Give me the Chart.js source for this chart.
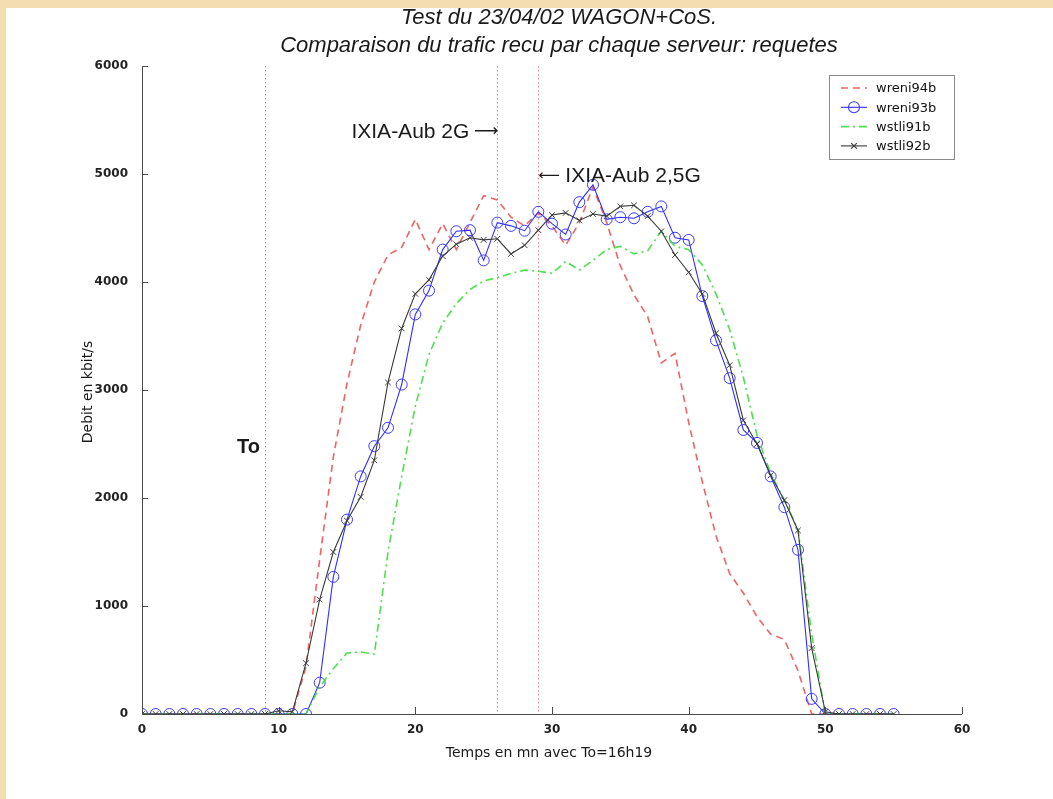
<!DOCTYPE html>
<html>
<head>
<meta charset="utf-8">
<script src="https://cdn.jsdelivr.net/npm/chart.js@4.4.1/dist/chart.umd.min.js"></script>
<style>
  html, body { margin: 0; padding: 0; }
  body { width: 1053px; height: 799px; background: #f4ddb1; position: relative; overflow: hidden; }
  #page { position: absolute; left: 6px; top: 8px; right: 0; bottom: 0; background: #fff; }
  #chart { position: absolute; left: 0; top: 0; }
</style>
</head>
<body>
<div id="page"></div>
<canvas id="chart" width="1053" height="799"></canvas>
<script>
// minutes since To (16h19)
const minutes = [0, 1, 2, 3, 4, 5, 6, 7, 8, 9, 10, 11, 12, 13, 14, 15, 16, 17, 18, 19,
  20, 21, 22, 23, 24, 25, 26, 27, 28, 29, 30, 31, 32, 33, 34, 35, 36, 37, 38, 39,
  40, 41, 42, 43, 44, 45, 46, 47, 48, 49, 50, 51, 52, 53, 54, 55];

// debit in kbit/s, one value per minute
const wreni94b = [0, 0, 0, 0, 0, 0, 0, 0, 0, 0, 0, 0, 440, 1430, 2380, 3060, 3600, 4000, 4250, 4320,
  4580, 4300, 4540, 4300, 4550, 4800, 4760, 4600, 4520, 4640, 4520, 4340, 4550, 4880, 4550, 4150, 3880, 3680, 3250, 3340,
  2700, 2150, 1650, 1300, 1120, 900, 740, 690, 400, 0, 0, 0, 0, 0, 0, 0];

const wreni93b = [0, 0, 0, 0, 0, 0, 0, 0, 0, 0, 0, 0, 0, 290, 1270, 1800, 2200, 2480, 2650, 3050,
  3700, 3920, 4300, 4470, 4480, 4200, 4550, 4520, 4475, 4650, 4540, 4440, 4740, 4900, 4580, 4600, 4590, 4650, 4700, 4410,
  4390, 3870, 3460, 3110, 2630, 2510, 2200, 1915, 1520, 140, 0, 0, 0, 0, 0, 0];

const wstli91b = [0, 0, 0, 0, 0, 0, 0, 0, 0, 0, 0, 0, 0, 250, 420, 565, 575, 555, 1500, 2200,
  2850, 3330, 3620, 3800, 3930, 4010, 4040, 4080, 4110, 4100, 4080, 4190, 4110, 4200, 4300, 4330, 4260, 4290, 4470, 4330,
  4300, 4160, 3890, 3560, 3120, 2580, 2230, 1980, 1710, 740, 0, 0, 0, 0, 0, 0];

const wstli92b = [0, 0, 0, 0, 0, 0, 0, 0, 0, 0, 30, 20, 470, 1060, 1500, 1790, 2010, 2350, 3070, 3570,
  3890, 4020, 4240, 4350, 4410, 4390, 4400, 4260, 4340, 4480, 4620, 4640, 4570, 4630, 4610, 4700, 4710, 4610, 4470, 4250,
  4090, 3890, 3525, 3230, 2720, 2500, 2210, 1980, 1700, 610, 20, 0, 0, 0, 0, 0];

// vertical markers: To, IXIA-Aub 2G, IXIA-Aub 2,5G
const markerMinutes = [9, 26, 29];

const titleLines = ['Test du 23/04/02 WAGON+CoS.', 'Comparaison du trafic recu par chaque serveur: requetes'];
const xTitle = 'Temps en mn avec To=16h19';
const yTitle = 'Debit en kbit/s';


function toPoints(values) {
  return values.map((v, i) => ({x: minutes[i], y: v}));
}


const decor = {
  id: 'decor',

  beforeDatasetsDraw(chart) {
    const {ctx, chartArea: a} = chart;
    const x = chart.scales.x;
    const colors = ['#9a9a9a', '#f08a8a', '#f08a8a'];

    ctx.save();
    ctx.lineWidth = 1;
    ctx.setLineDash([1.5, 2.5]);
    markerMinutes.forEach((m, i) => {
      const px = Math.round(x.getPixelForValue(m)) + 0.5;
      ctx.strokeStyle = colors[i];
      ctx.beginPath();
      ctx.moveTo(px, a.top);
      ctx.lineTo(px, a.bottom);
      ctx.stroke();
    });
    ctx.restore();
  },

  afterDraw(chart) {
    const {ctx, chartArea: a} = chart;
    const x = chart.scales.x;
    const y = chart.scales.y;

    ctx.save();

    // axes with inward ticks
    ctx.strokeStyle = '#4a4a4a';
    ctx.lineWidth = 1;
    ctx.beginPath();
    ctx.moveTo(a.left + 0.5, a.top);
    ctx.lineTo(a.left + 0.5, a.bottom + 0.5);
    ctx.lineTo(a.right, a.bottom + 0.5);
    for (const t of y.ticks) {
      const py = Math.round(y.getPixelForValue(t.value)) + 0.5;
      ctx.moveTo(a.left, py);
      ctx.lineTo(a.left + 6, py);
    }
    for (const t of x.ticks) {
      const px = Math.round(x.getPixelForValue(t.value)) + 0.5;
      ctx.moveTo(px, a.bottom);
      ctx.lineTo(px, a.bottom - 7);
    }
    ctx.stroke();

    // titles
    ctx.fillStyle = '#1a1a1a';
    ctx.textAlign = 'center';
    ctx.textBaseline = 'alphabetic';
    ctx.font = 'italic 22px "Liberation Sans"';
    ctx.fillText(titleLines[0], 559, 24);
    ctx.fillText(titleLines[1], 559, 52);

    ctx.font = '14px "DejaVu Sans"';
    ctx.fillText(xTitle, 549, 757);

    ctx.save();
    ctx.translate(92, 392);
    ctx.rotate(-Math.PI / 2);
    ctx.fillText(yTitle, 0, 0);
    ctx.restore();

    // annotations
    ctx.textBaseline = 'middle';
    const x2G = x.getPixelForValue(markerMinutes[1]);
    const x25G = x.getPixelForValue(markerMinutes[2]);
    const y2G = y.getPixelForValue(5390);
    const y25G = y.getPixelForValue(4980);

    ctx.font = '21px "Liberation Sans"';
    ctx.textAlign = 'right';
    ctx.fillText('IXIA-Aub 2G', x2G - 28, y2G);
    ctx.textAlign = 'left';
    ctx.fillText('IXIA-Aub 2,5G', x25G + 27, y25G);

    ctx.font = '17px "DejaVu Sans"';
    ctx.textAlign = 'right';
    ctx.fillText('\u27f6', x2G + 1, y2G);
    ctx.font = '15px "DejaVu Sans"';
    ctx.textAlign = 'left';
    ctx.fillText('\u27f5', x25G, y25G);

    ctx.font = 'bold 20px "Liberation Sans"';
    ctx.textAlign = 'right';
    ctx.fillText('To', x.getPixelForValue(markerMinutes[0]) - 5, y.getPixelForValue(2470));

    // legend
    const box = {left: a.right - 133, top: a.top + 9, width: 125, height: 84};
    ctx.fillStyle = '#fff';
    ctx.fillRect(box.left, box.top, box.width, box.height);
    ctx.strokeStyle = '#8a8a8a';
    ctx.strokeRect(box.left + 0.5, box.top + 0.5, box.width, box.height);

    ctx.font = '13px "DejaVu Sans"';
    ctx.textAlign = 'left';
    chart.data.datasets.forEach((ds, i) => {
      const ly = box.top + 13 + i * 19.3;
      ctx.strokeStyle = ds.borderColor;
      ctx.lineWidth = ds.borderWidth;
      ctx.setLineDash(ds.borderDash || []);
      ctx.beginPath();
      ctx.moveTo(box.left + 12, ly);
      ctx.lineTo(box.left + 38, ly);
      ctx.stroke();
      ctx.setLineDash([]);
      if (ds.pointRadius > 0) {
        ctx.strokeStyle = ds.pointBorderColor;
        ctx.fillStyle = 'rgba(0,0,0,0)';
        Chart.helpers.drawPoint(ctx, {pointStyle: ds.pointStyle, radius: ds.pointRadius, borderWidth: 1, rotation: 0}, box.left + 25, ly);
      }
      ctx.fillStyle = '#111';
      ctx.fillText(ds.label, box.left + 47, ly + 1);
    });

    ctx.restore();
  }
};


const tickFont = {family: '"DejaVu Sans"', size: 12, weight: 'bold'};

new Chart(document.getElementById('chart'), {
  type: 'line',
  data: {
    datasets: [
      {
        label: 'wreni94b',
        data: toPoints(wreni94b),
        borderColor: 'rgba(240, 70, 70, 0.85)',
        borderWidth: 1.6,
        borderDash: [7, 5],
        pointRadius: 0,
        order: 3
      },
      {
        label: 'wreni93b',
        data: toPoints(wreni93b),
        borderColor: '#2f2fff',
        borderWidth: 1.1,
        pointStyle: 'circle',
        pointRadius: 5.5,
        pointBorderColor: '#3a3aff',
        pointBackgroundColor: 'rgba(0,0,0,0)',
        pointBorderWidth: 1,
        order: 2
      },
      {
        label: 'wstli91b',
        data: toPoints(wstli91b),
        borderColor: 'rgba(60, 220, 60, 0.9)',
        borderWidth: 1.6,
        borderDash: [8, 4, 2, 4],
        pointRadius: 0,
        order: 1
      },
      {
        label: 'wstli92b',
        data: toPoints(wstli92b),
        borderColor: '#3a3a3a',
        borderWidth: 1.1,
        pointStyle: 'crossRot',
        pointRadius: 4,
        pointBorderColor: '#3a3a3a',
        pointBorderWidth: 1,
        order: 0
      }
    ]
  },
  options: {
    responsive: false,
    animation: false,
    layout: {padding: {top: 66, right: 91, left: 0, bottom: 0}},
    plugins: {
      legend: {display: false},
      title: {display: false},
      tooltip: {enabled: false}
    },
    elements: {line: {tension: 0}},
    scales: {
      x: {
        type: 'linear',
        min: 0,
        max: 60,
        grid: {display: false},
        border: {display: false},
        ticks: {stepSize: 10, font: tickFont, color: '#222', padding: 1, maxRotation: 0},
        afterFit: scale => { scale.height = 85; }
      },
      y: {
        min: 0,
        max: 6000,
        grid: {display: false},
        border: {display: false},
        ticks: {stepSize: 1000, font: tickFont, color: '#222', padding: 6, callback: v => String(v)},
        afterFit: scale => { scale.width = 142; }
      }
    }
  },
  plugins: [decor]
});
</script>
</body>
</html>
